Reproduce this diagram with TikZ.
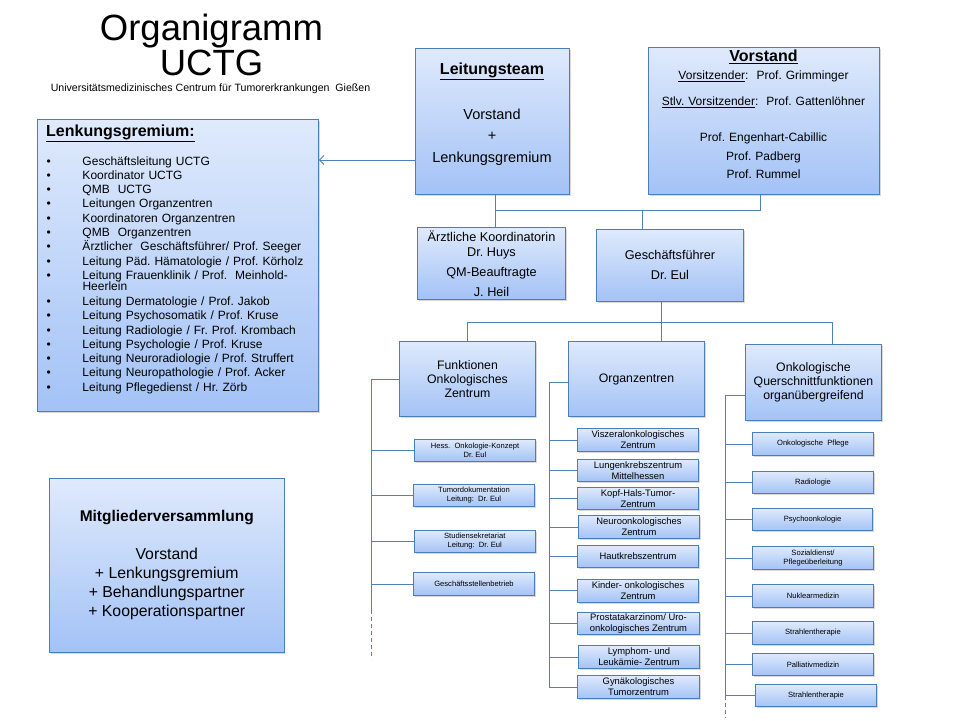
\documentclass[tikz,border=0pt]{standalone}
\usepackage{fontspec}
\setmainfont{Liberation Sans}
\usetikzlibrary{shadows,arrows.meta}
\frenchspacing

\definecolor{boxline}{RGB}{74,126,187}
\definecolor{boxtop}{RGB}{223,234,252}
\definecolor{boxbottom}{RGB}{163,194,246}
\definecolor{linkcol}{RGB}{79,129,189}

\newcommand{\lbul}{\makebox[35.8pt][l]{\textbullet}}

\tikzset{
  unit box/.style={draw=boxline, line width=0.9pt, top color=boxtop, bottom color=boxbottom,
    drop shadow={opacity=0.3, shadow xshift=1.3pt, shadow yshift=-1.6pt}, inner sep=0pt, align=center},
  boxsize/.style 2 args={minimum width=#1pt, minimum height=#2pt},
  lbox/.style={unit box, boxsize={121}{22.5}, font=\fontsize{7.6}{9}\selectfont},
  mbox/.style={unit box, boxsize={121}{23}, font=\fontsize{9.4}{11}\selectfont},
  rbox/.style={unit box, boxsize={121}{23}, font=\fontsize{7.6}{9.6}\selectfont},
  link/.style={color=linkcol, line width=0.9pt},
}

\begin{document}
\begin{tikzpicture}[x=1pt, y=-1pt]
\useasboundingbox (0,0) rectangle (960,720);

% title
\node[anchor=base, font=\fontsize{36.5}{36}\selectfont] (title) at (211.5,40) {Organigramm};
\node[anchor=base, font=\fontsize{36.5}{36}\selectfont] (titleb) at (211.5,75) {UCTG};
\node[anchor=base, font=\fontsize{10.6}{12}\selectfont] (subtitle) at (210.5,91)
  {Universitätsmedizinisches Centrum für Tumorerkrankungen\ \ Gießen};

% top boxes
\node[unit box, boxsize={154}{145.5}] (leit) at (492.5,121.25) {};
\node[anchor=base, text width=150pt, align=center, inner sep=0pt, font=\fontsize{14.5}{22}\selectfont] (leittext) at (492,74)
  {{\fontsize{16}{22}\selectfont\bfseries\underline{Leitungsteam}}\\[23pt]Vorstand\\[-1pt]+\\[0.7pt]Lenkungsgremium};

\node[unit box, boxsize={231}{146.5}] (vorst) at (764,120.75) {};
\node[anchor=base, text width=225pt, align=center, inner sep=0pt, font=\fontsize{12}{18}\selectfont] (vorsttext) at (763.5,61.5)
  {{\fontsize{16}{18}\selectfont\bfseries\underline{Vorstand}}\\
   \underline{Vorsitzender}:\ \ Prof. Grimminger\\[8.4pt]
   \underline{Stlv.\ Vorsitzender}:\ \ Prof. Gattenlöhner\\[18pt]
   Prof. Engenhart-Cabillic\\[1pt]
   Prof. Padberg\\
   Prof. Rummel};

\node[unit box, boxsize={281}{292}] (lenk) at (178,265.5) {};
\node[anchor=base west, inner sep=0pt, font=\fontsize{16}{18}\selectfont\bfseries] (lenktitle) at (46,136) {\underline{Lenkungsgremium:}};
\node[anchor=base west, text width=272pt, align=left, inner sep=0pt, font=\fontsize{12}{14.3}\selectfont] (lenklist) at (46.5,165)
  {\lbul Geschäftsleitung UCTG\\
   \lbul Koordinator UCTG\\
   \lbul QMB\ \ UCTG\\
   \lbul Leitungen Organzentren\\
   \lbul Koordinatoren Organzentren\\
   \lbul QMB\ \ Organzentren\\
   \lbul Ärztlicher\ \ Geschäftsführer/ Prof. Seeger\\
   \lbul Leitung Päd. Hämatologie / Prof. Körholz\\
   \lbul Leitung Frauenklinik / Prof.\ \ Meinhold-\\[-3.3pt]
   \hspace*{35.8pt}Heerlein\\[0.7pt]
   \lbul Leitung Dermatologie / Prof. Jakob\\
   \lbul Leitung Psychosomatik / Prof. Kruse\\
   \lbul Leitung Radiologie / Fr. Prof. Krombach\\
   \lbul Leitung Psychologie / Prof. Kruse\\
   \lbul Leitung Neuroradiologie / Prof. Struffert\\
   \lbul Leitung Neuropathologie / Prof. Acker\\
   \lbul Leitung Pflegedienst / Hr. Zörb};

\node[unit box, boxsize={148}{72}, font=\fontsize{12.7}{20}\selectfont] (aerzt) at (491.5,263.5)
  {Ärztliche Koordinatorin\\[-4.7pt]Dr. Huys\\QM-Beauftragte\\J. Heil};
\node[unit box, boxsize={147}{71.5}, font=\fontsize{12.7}{20}\selectfont] (gf) at (670,265.25) {Geschäftsführer\\Dr. Eul};

\node[unit box, boxsize={234.5}{174.5}, font=\fontsize{15.8}{19}\selectfont] (mitglied) at (166.75,565.25)
  {{\bfseries\fontsize{15.5}{19}\selectfont Mitgliederversammlung}\\[19.4pt]Vorstand\\+ Lenkungsgremium\\+ Behandlungspartner\\+ Kooperationspartner};

% second level
\node[unit box, boxsize={136}{75}, font=\fontsize{12.3}{14.2}\selectfont] (funk) at (467.5,379) {Funktionen\\Onkologisches\\Zentrum};
\node[unit box, boxsize={136}{75}, font=\fontsize{12.3}{14.2}\selectfont] (organ) at (636.5,379) {Organzentren};
\node[unit box, boxsize={136}{76}, font=\fontsize{12.3}{14}\selectfont] (onk) at (813.5,382.5) {Onkologische\\Querschnittfunktionen\\organübergreifend};

% left column
\node[lbox] (hess) at (475,450.5) {Hess.\ \ Onkologie-Konzept\\Dr. Eul};
\node[lbox] (tumor) at (474,495.5) {Tumordokumentation\\Leitung:\ \ Dr. Eul};
\node[lbox] (studien) at (474.75,541.5) {Studiensekretariat\\Leitung:\ \ Dr. Eul};
\node[lbox, boxsize={121}{23}] (gsb) at (474,584) {Geschäftsstellenbetrieb};

% middle column
\node[mbox] (visz) at (638,440) {Viszeralonkologisches\\Zentrum};
\node[mbox, boxsize={121}{22}] (lungen) at (638,470.5) {Lungenkrebszentrum\\Mittelhessen};
\node[mbox, boxsize={121}{22}] (kopf) at (638,498.5) {Kopf-Hals-Tumor-\\Zentrum};
\node[mbox] (neuro) at (639,527) {Neuroonkologisches\\Zentrum};
\node[mbox, boxsize={121}{22}] (haut) at (638,556.5) {Hautkrebszentrum};
\node[mbox, boxsize={121}{22.5}] (kinder) at (638,590.75) {Kinder- onkologisches\\Zentrum};
\node[mbox, boxsize={122}{22}] (prostata) at (638.5,623.5) {Prostatakarzinom/ Uro-\\onkologisches Zentrum};
\node[mbox, boxsize={121}{22.5}] (lymphom) at (639,657) {Lymphom- und\\Leukämie- Zentrum};
\node[mbox, boxsize={122}{23}] (gyn) at (638.5,687) {Gynäkologisches\\Tumorzentrum};

% right column
\node[rbox] (pflege) at (813,444) {Onkologische\ \ Pflege};
\node[rbox, boxsize={121}{22}] (radio) at (813,482.5) {Radiologie};
\node[rbox, boxsize={120}{22}] (psycho) at (812.5,519.5) {Psychoonkologie};
\node[rbox] (sozial) at (813,558) {Sozialdienst/\\Pflegeüberleitung};
\node[rbox] (nuklear) at (813,596) {Nuklearmedizin};
\node[rbox] (strahlen) at (813,633) {Strahlentherapie};
\node[rbox, boxsize={121}{22}] (pallia) at (813,664.5) {Palliativmedizin};
\node[rbox, boxsize={121}{22}] (strahlenb) at (816,695.5) {Strahlentherapie};

% junctions
\coordinate (jl) at (495,210);
\coordinate (jr) at (760,210);
\coordinate (jg) at (642,210);
\coordinate (ba) at (467.5,322);
\coordinate (bm) at (661,322);
\coordinate (bb) at (832,322);
\coordinate (ltop) at (371,379);
\coordinate (lend) at (371,610);
\coordinate (ldash) at (371,659);
\coordinate (mtop) at (549,382);
\coordinate (mend) at (549,687);
\coordinate (rtop) at (725,395.5);
\coordinate (rend) at (725,695.5);
\coordinate (rdash) at (725,718);
\coordinate (arrowrow) at (0,160);

% connectors
\draw[link, -{Straight Barb[length=4.5pt, width=9pt]}] (leit.west |- arrowrow) -- (lenk.east |- arrowrow);
\draw[link] (jl |- leit.south) -- (jl |- aerzt.north);
\draw[link] (jl) -- (jr) -- (jr |- vorst.south);
\draw[link] (jg) -- (jg |- gf.north);
\draw[link] (bm |- gf.south) -- (bm) -- (bm |- organ.north);
\draw[link] (ba |- funk.north) -- (ba) -- (bb) -- (bb |- onk.north);

\draw[link] (funk.west) -- (ltop) -- (lend);
\draw[link, dash pattern=on 4pt off 3pt] (lend) -- (ldash);
\draw[link] (mtop -| organ.west) -- (mtop) -- (mend);
\draw[link] (rtop -| onk.west) -- (rtop) -- (rend);
\draw[link, dash pattern=on 4pt off 3pt] (rend) -- (rdash);

\path[link]
(hess.west) edge (ltop |- hess.west)
(tumor.west) edge (ltop |- tumor.west)
(studien.west) edge (ltop |- studien.west)
(gsb.west) edge (ltop |- gsb.west)
(visz.west) edge (mtop |- visz.west)
(lungen.west) edge (mtop |- lungen.west)
(kopf.west) edge (mtop |- kopf.west)
(neuro.west) edge (mtop |- neuro.west)
(haut.west) edge (mtop |- haut.west)
(kinder.west) edge (mtop |- kinder.west)
(prostata.west) edge (mtop |- prostata.west)
(lymphom.west) edge (mtop |- lymphom.west)
(gyn.west) edge (mtop |- gyn.west)
(pflege.west) edge (rtop |- pflege.west)
(radio.west) edge (rtop |- radio.west)
(psycho.west) edge (rtop |- psycho.west)
(sozial.west) edge (rtop |- sozial.west)
(nuklear.west) edge (rtop |- nuklear.west)
(strahlen.west) edge (rtop |- strahlen.west)
(pallia.west) edge (rtop |- pallia.west)
(strahlenb.west) edge (rtop |- strahlenb.west)
;
\end{tikzpicture}
\end{document}
